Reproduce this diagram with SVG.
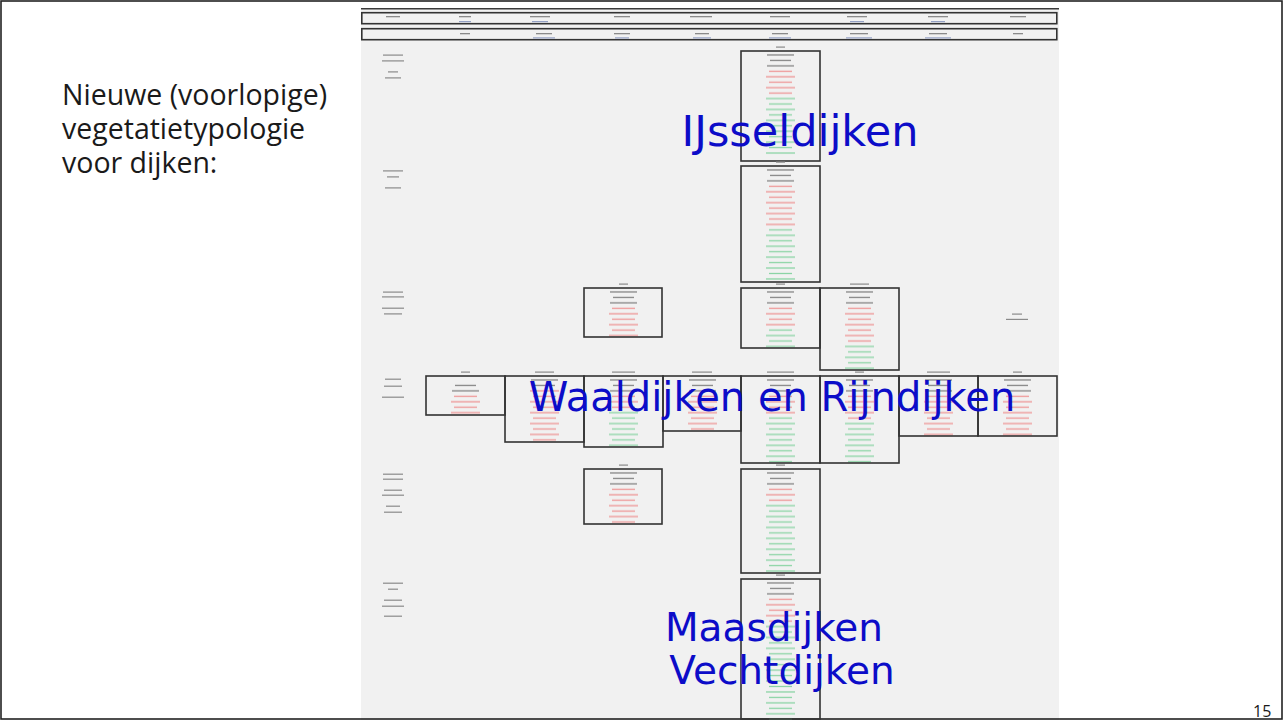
<svg xmlns="http://www.w3.org/2000/svg" width="1283" height="720" viewBox="0 0 1283 720">
<style>
.box{fill:none;stroke:#333;stroke-width:1.6}
.hdr{fill:none;stroke:#333;stroke-width:1.6}
.tk{fill:url(#pk)}
.tr{fill:url(#pr)}
.tg{fill:url(#pg)}
.lbl{fill:#8a8a8a}
.blu{fill:#93a0c4}
.title{font-family:"Open Sans","Liberation Sans",sans-serif;font-size:28.5px;fill:#1a1a1a}
.big{font-family:"DejaVu Sans","Liberation Sans",sans-serif;fill:#0c0cc8;text-anchor:middle}
</style>
<defs>
<pattern id="pk" width="79" height="10.9" patternUnits="userSpaceOnUse">
<rect x="26" y="3.3" width="27" height="1.3" fill="#858585"/>
<rect x="29" y="8.75" width="21" height="1.3" fill="#858585"/>
</pattern>
<pattern id="pr" width="79" height="10.9" patternUnits="userSpaceOnUse">
<rect x="25" y="3.3" width="29" height="1.3" fill="#ee9595"/>
<rect x="28" y="8.75" width="23" height="1.3" fill="#ee9595"/>
</pattern>
<pattern id="pg" width="79" height="10.9" patternUnits="userSpaceOnUse">
<rect x="25" y="3.3" width="29" height="1.3" fill="#8ad4a4"/>
<rect x="28" y="8.75" width="23" height="1.3" fill="#8ad4a4"/>
</pattern>
</defs>

<rect x="0" y="0" width="1283" height="720" fill="#ffffff"/>
<rect x="361" y="8" width="698" height="712" fill="#f1f1f1"/>
<line x1="361" y1="8.7" x2="1059" y2="8.7" stroke="#3a3a3a" stroke-width="1.5"/>
<rect x="1" y="1" width="1281" height="718" fill="none" stroke="#222" stroke-width="1.6"/>

<g id="slide-title">
<text class="title" x="62" y="105"><tspan x="62" y="105">Nieuwe (voorlopige)</tspan><tspan x="62" y="139">vegetatietypologie</tspan><tspan x="62" y="173">voor dijken:</tspan></text>
</g>
<text id="page-number" x="1253" y="717" font-family="Open Sans, Liberation Sans, sans-serif" font-size="16" fill="#1a1a1a">15</text>

<g id="header-row-1">
<rect class="hdr" x="361.8" y="12.7" width="695" height="11"/>
<rect class="lbl" x="386" y="16" width="14" height="1.3"/>
<rect class="lbl" x="459" y="16" width="12" height="1.3"/>
<rect class="lbl" x="530" y="16" width="20" height="1.3"/>
<rect class="lbl" x="614" y="16" width="16" height="1.3"/>
<rect class="lbl" x="690" y="16" width="22" height="1.3"/>
<rect class="lbl" x="770" y="16" width="20" height="1.3"/>
<rect class="lbl" x="847" y="16" width="20" height="1.3"/>
<rect class="lbl" x="928" y="16" width="20" height="1.3"/>
<rect class="lbl" x="1010" y="16" width="16" height="1.3"/>
<rect class="blu" x="459" y="21" width="12" height="1.2"/>
<rect class="blu" x="532" y="21" width="16" height="1.2"/>
<rect class="blu" x="850" y="21" width="14" height="1.2"/>
<rect class="blu" x="931" y="21" width="14" height="1.2"/>
</g>

<g id="header-row-2">
<rect class="hdr" x="361.8" y="28.7" width="695" height="11" stroke="#444" stroke-width="2"/>
<rect class="lbl" x="460" y="33" width="10" height="1.3"/>
<rect class="lbl" x="536" y="33" width="16" height="1.3"/>
<rect class="lbl" x="614" y="33" width="16" height="1.3"/>
<rect class="lbl" x="695" y="33" width="14" height="1.3"/>
<rect class="lbl" x="772" y="33" width="16" height="1.3"/>
<rect class="lbl" x="850" y="33" width="18" height="1.3"/>
<rect class="lbl" x="929" y="33" width="18" height="1.3"/>
<rect class="lbl" x="1013" y="33" width="10" height="1.3"/>
<rect class="blu" x="533" y="37.3" width="22" height="1.2"/>
<rect class="blu" x="615" y="37.3" width="14" height="1.2"/>
<rect class="blu" x="693" y="37.3" width="18" height="1.2"/>
<rect class="blu" x="769" y="37.3" width="22" height="1.2"/>
<rect class="blu" x="846" y="37.3" width="26" height="1.2"/>
<rect class="blu" x="925" y="37.3" width="26" height="1.2"/>
</g>

<g id="row-labels">
<rect class="lbl" x="383" y="54.5" width="20" height="1.2"/>
<rect class="lbl" x="382" y="60.3" width="22" height="1.2"/>
<rect class="lbl" x="388" y="71.3" width="10" height="1.2"/>
<rect class="lbl" x="385" y="77.3" width="16" height="1.2"/>
<rect class="lbl" x="383" y="170.3" width="20" height="1.2"/>
<rect class="lbl" x="387" y="176.3" width="12" height="1.2"/>
<rect class="lbl" x="385" y="187.3" width="16" height="1.2"/>
<rect class="lbl" x="383" y="291.5" width="20" height="1.2"/>
<rect class="lbl" x="382" y="296.3" width="22" height="1.2"/>
<rect class="lbl" x="382" y="307.6" width="22" height="1.2"/>
<rect class="lbl" x="384" y="313.3" width="18" height="1.2"/>
<rect class="lbl" x="385" y="378.6" width="16" height="1.2"/>
<rect class="lbl" x="384" y="385.6" width="18" height="1.2"/>
<rect class="lbl" x="382" y="396.6" width="22" height="1.2"/>
<rect class="lbl" x="383" y="473.6" width="20" height="1.2"/>
<rect class="lbl" x="383" y="478.6" width="20" height="1.2"/>
<rect class="lbl" x="384" y="489.6" width="18" height="1.2"/>
<rect class="lbl" x="382" y="494.6" width="22" height="1.2"/>
<rect class="lbl" x="386" y="505.6" width="14" height="1.2"/>
<rect class="lbl" x="384" y="511.6" width="18" height="1.2"/>
<rect class="lbl" x="383" y="582.6" width="20" height="1.2"/>
<rect class="lbl" x="388" y="588.6" width="10" height="1.2"/>
<rect class="lbl" x="384" y="599.6" width="18" height="1.2"/>
<rect class="lbl" x="382" y="605.6" width="22" height="1.2"/>
<rect class="lbl" x="384" y="615.6" width="18" height="1.2"/>
</g>

<g id="box-ijssel-1" transform="translate(741,51)">
<rect class="lbl" x="35" y="-4.5" width="9" height="1.2"/>
<rect class="tk" x="0" y="1.3" width="79" height="16.35"/>
<rect class="tr" x="0" y="17.65" width="79" height="27.25"/>
<rect class="tg" x="0" y="44.9" width="79" height="59.95"/>
<rect class="box" x="0" y="0" width="79" height="110"/>
</g>

<g id="box-ijssel-2" transform="translate(741,166)">
<rect class="lbl" x="35" y="-4.5" width="9" height="1.2"/>
<rect class="tk" x="0" y="1.3" width="79" height="16.35"/>
<rect class="tr" x="0" y="17.65" width="79" height="43.6"/>
<rect class="tg" x="0" y="61.25" width="79" height="54.5"/>
<rect class="box" x="0" y="0" width="79" height="116"/>
</g>

<g id="box-r3-c3" transform="translate(584,288)">
<rect class="lbl" x="35" y="-4.5" width="9" height="1.2"/>
<rect class="tk" x="0" y="1.3" width="79" height="16.35"/>
<rect class="tr" x="0" y="17.65" width="79" height="32.7"/>
<rect class="box" x="0" y="0" width="78" height="49"/>
</g>

<g id="box-r3-c5" transform="translate(741,288)">
<rect class="lbl" x="35" y="-4.5" width="9" height="1.2"/>
<rect class="tk" x="0" y="1.3" width="79" height="16.35"/>
<rect class="tr" x="0" y="17.65" width="79" height="21.8"/>
<rect class="tg" x="0" y="39.45" width="79" height="21.8"/>
<rect class="box" x="0" y="0" width="79" height="60"/>
</g>

<g id="box-r3-c6" transform="translate(820,288)">
<rect class="lbl" x="30" y="-4.5" width="19" height="1.2"/>
<rect class="tk" x="0" y="1.3" width="79" height="16.35"/>
<rect class="tr" x="0" y="17.65" width="79" height="38.15"/>
<rect class="tg" x="0" y="55.8" width="79" height="27.25"/>
<rect class="box" x="0" y="0" width="79" height="82"/>
</g>

<g id="note-r3-c8">
<rect class="lbl" x="1012" y="313.5" width="10" height="1.2"/>
<rect class="lbl" x="1006" y="318.8" width="22" height="1.2"/>
</g>

<g id="box-waal-c1" transform="translate(426,376)">
<rect class="lbl" x="35" y="-4.5" width="9" height="1.2"/>
<rect class="tk" x="0" y="6.75" width="79" height="10.9"/>
<rect class="tr" x="0" y="17.65" width="79" height="21.8"/>
<rect class="box" x="0" y="0" width="79" height="39"/>
</g>

<g id="box-waal-c2" transform="translate(505,376)">
<rect class="lbl" x="30" y="-4.5" width="19" height="1.2"/>
<rect class="tk" x="0" y="1.3" width="79" height="10.9"/>
<rect class="tr" x="0" y="12.2" width="79" height="54.5"/>
<rect class="box" x="0" y="0" width="79" height="66"/>
</g>

<g id="box-waal-c3" transform="translate(584,376)">
<rect class="lbl" x="28" y="-4.5" width="23" height="1.2"/>
<rect class="tk" x="0" y="1.3" width="79" height="16.35"/>
<rect class="tr" x="0" y="17.65" width="79" height="16.35"/>
<rect class="tg" x="0" y="34" width="79" height="38.15"/>
<rect class="box" x="0" y="0" width="79" height="71"/>
</g>

<g id="box-waal-c4" transform="translate(663,376)">
<rect class="lbl" x="29" y="-4.5" width="20" height="1.2"/>
<rect class="tk" x="0" y="1.3" width="78" height="16.35"/>
<rect class="tr" x="0" y="17.65" width="78" height="38.15"/>
<rect class="box" x="0" y="0" width="78" height="55"/>
</g>

<g id="box-waal-c5" transform="translate(741,376)">
<rect class="lbl" x="26" y="-4.5" width="27" height="1.2"/>
<rect class="tk" x="0" y="1.3" width="79" height="16.35"/>
<rect class="tr" x="0" y="17.65" width="79" height="21.8"/>
<rect class="tg" x="0" y="39.45" width="79" height="49.05"/>
<rect class="box" x="0" y="0" width="79" height="87"/>
</g>

<g id="box-waal-c6" transform="translate(820,376)">
<rect class="lbl" x="35" y="-4.5" width="9" height="1.2"/>
<rect class="tk" x="0" y="1.3" width="79" height="16.35"/>
<rect class="tr" x="0" y="17.65" width="79" height="27.25"/>
<rect class="tg" x="0" y="44.9" width="79" height="43.6"/>
<rect class="box" x="0" y="0" width="79" height="87"/>
</g>

<g id="box-waal-c7" transform="translate(899,376)">
<rect class="lbl" x="28" y="-4.5" width="23" height="1.2"/>
<rect class="tk" x="0" y="1.3" width="79" height="16.35"/>
<rect class="tr" x="0" y="17.65" width="79" height="43.6"/>
<rect class="box" x="0" y="0" width="79" height="60"/>
</g>

<g id="box-waal-c8" transform="translate(978,376)">
<rect class="lbl" x="35" y="-4.5" width="9" height="1.2"/>
<rect class="tk" x="0" y="1.3" width="79" height="16.35"/>
<rect class="tr" x="0" y="17.65" width="79" height="43.6"/>
<rect class="box" x="0" y="0" width="79" height="60"/>
</g>

<g id="box-r5-c3" transform="translate(584,469)">
<rect class="lbl" x="35" y="-4.5" width="9" height="1.2"/>
<rect class="tk" x="0" y="1.3" width="79" height="16.35"/>
<rect class="tr" x="0" y="17.65" width="79" height="38.15"/>
<rect class="box" x="0" y="0" width="78" height="55"/>
</g>

<g id="box-r5-c5" transform="translate(741,469)">
<rect class="lbl" x="35" y="-4.5" width="9" height="1.2"/>
<rect class="tk" x="0" y="1.3" width="79" height="16.35"/>
<rect class="tr" x="0" y="17.65" width="79" height="16.35"/>
<rect class="tg" x="0" y="34" width="79" height="70.85"/>
<rect class="box" x="0" y="0" width="79" height="104"/>
</g>

<g id="box-maas" transform="translate(741,579)">
<rect class="lbl" x="35" y="-4.5" width="9" height="1.2"/>
<rect class="tk" x="0" y="1.3" width="79" height="16.35"/>
<rect class="tr" x="0" y="17.65" width="79" height="27.25"/>
<rect class="tg" x="0" y="44.9" width="79" height="96"/>
<rect class="box" x="0" y="0" width="79" height="140"/>
</g>

<g id="region-labels">
<text class="big" x="800" y="146" style="font-size:43px">IJsseldijken</text>
<text class="big" x="772" y="411" style="font-size:40px">Waaldijken en Rijndijken</text>
<text class="big" x="774" y="641" style="font-size:39px">Maasdijken</text>
<text class="big" x="782" y="684" style="font-size:39px">Vechtdijken</text>
</g>
</svg>
